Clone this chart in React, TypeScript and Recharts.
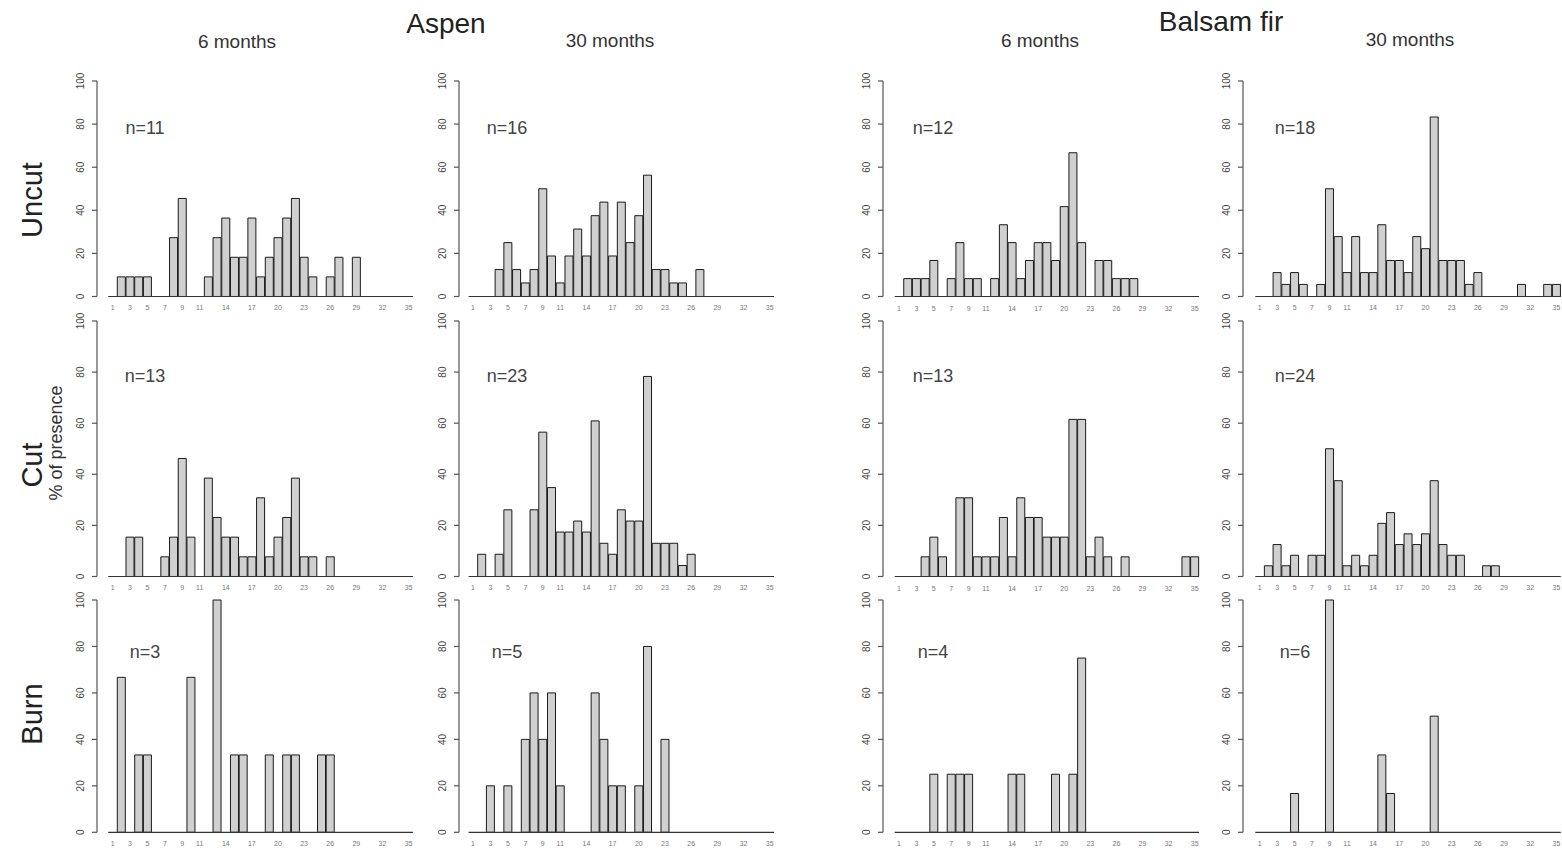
import React from "react";
import { BarChart, Bar, XAxis, YAxis } from "recharts";

// size classes 1..35
const days = [
  "1", "2", "3", "4", "5", "6", "7", "8", "9", "10",
  "11", "12", "13", "14", "15", "16", "17", "18", "19", "20",
  "21", "22", "23", "24", "25", "26", "27", "28", "29", "30",
  "31", "32", "33", "34", "35",
];
const shownDays = ["1", "3", "5", "7", "9", "11", "14", "17", "20", "23", "26", "29", "32", "35"];
const yTicks = [0, 20, 40, 60, 80, 100];

// % of presence, Aspen
const aspen6Uncut = [
  0, 9.1, 9.1, 9.1, 9.1, 0, 0, 27.3, 45.5, 0,
  0, 9.1, 27.3, 36.4, 18.2, 18.2, 36.4, 9.1, 18.2, 27.3,
  36.4, 45.5, 18.2, 9.1, 0, 9.1, 18.2, 0, 18.2, 0,
  0, 0, 0, 0, 0,
];
const aspen30Uncut = [
  0, 0, 0, 12.5, 25, 12.5, 6.3, 12.5, 50, 18.8,
  6.3, 18.8, 31.3, 18.8, 37.5, 43.8, 18.8, 43.8, 25, 37.5,
  56.3, 12.5, 12.5, 6.3, 6.3, 0, 12.5, 0, 0, 0,
  0, 0, 0, 0, 0,
];
const aspen6Cut = [
  0, 0, 15.4, 15.4, 0, 0, 7.7, 15.4, 46.2, 15.4,
  0, 38.5, 23.1, 15.4, 15.4, 7.7, 7.7, 30.8, 7.7, 15.4,
  23.1, 38.5, 7.7, 7.7, 0, 7.7, 0, 0, 0, 0,
  0, 0, 0, 0, 0,
];
const aspen30Cut = [
  0, 8.7, 0, 8.7, 26.1, 0, 0, 26.1, 56.5, 34.8,
  17.4, 17.4, 21.7, 17.4, 60.9, 13, 8.7, 26.1, 21.7, 21.7,
  78.3, 13, 13, 13, 4.3, 8.7, 0, 0, 0, 0,
  0, 0, 0, 0, 0,
];
const aspen6Burn = [
  0, 66.7, 0, 33.3, 33.3, 0, 0, 0, 0, 66.7,
  0, 0, 100, 0, 33.3, 33.3, 0, 0, 33.3, 0,
  33.3, 33.3, 0, 0, 33.3, 33.3, 0, 0, 0, 0,
  0, 0, 0, 0, 0,
];
const aspen30Burn = [
  0, 0, 20, 0, 20, 0, 40, 60, 40, 60,
  20, 0, 0, 0, 60, 40, 20, 20, 0, 20,
  80, 0, 40, 0, 0, 0, 0, 0, 0, 0,
  0, 0, 0, 0, 0,
];

// % of presence, Balsam fir
const balsam6Uncut = [
  0, 8.3, 8.3, 8.3, 16.7, 0, 8.3, 25, 8.3, 8.3,
  0, 8.3, 33.3, 25, 8.3, 16.7, 25, 25, 16.7, 41.7,
  66.7, 25, 0, 16.7, 16.7, 8.3, 8.3, 8.3, 0, 0,
  0, 0, 0, 0, 0,
];
const balsam30Uncut = [
  0, 0, 11.1, 5.6, 11.1, 5.6, 0, 5.6, 50, 27.8,
  11.1, 27.8, 11.1, 11.1, 33.3, 16.7, 16.7, 11.1, 27.8, 22.2,
  83.3, 16.7, 16.7, 16.7, 5.6, 11.1, 0, 0, 0, 0,
  5.6, 0, 0, 5.6, 5.6,
];
const balsam6Cut = [
  0, 0, 0, 7.7, 15.4, 7.7, 0, 30.8, 30.8, 7.7,
  7.7, 7.7, 23.1, 7.7, 30.8, 23.1, 23.1, 15.4, 15.4, 15.4,
  61.5, 61.5, 7.7, 15.4, 7.7, 0, 7.7, 0, 0, 0,
  0, 0, 0, 7.7, 7.7,
];
const balsam30Cut = [
  0, 4.2, 12.5, 4.2, 8.3, 0, 8.3, 8.3, 50, 37.5,
  4.2, 8.3, 4.2, 8.3, 20.8, 25, 12.5, 16.7, 12.5, 16.7,
  37.5, 12.5, 8.3, 8.3, 0, 0, 4.2, 4.2, 0, 0,
  0, 0, 0, 0, 0,
];
const balsam6Burn = [
  0, 0, 0, 0, 25, 0, 25, 25, 25, 0,
  0, 0, 0, 25, 25, 0, 0, 0, 25, 0,
  25, 75, 0, 0, 0, 0, 0, 0, 0, 0,
  0, 0, 0, 0, 0,
];
const balsam30Burn = [
  0, 0, 0, 0, 16.7, 0, 0, 0, 100, 0,
  0, 0, 0, 0, 33.3, 16.7, 0, 0, 0, 0,
  50, 0, 0, 0, 0, 0, 0, 0, 0, 0,
  0, 0, 0, 0, 0,
];

const sampleSizes = [
  ["n=11", "n=16", "n=12", "n=18"],
  ["n=13", "n=23", "n=13", "n=24"],
  ["n=3", "n=5", "n=4", "n=6"],
];

const panels = [
  [aspen6Uncut, aspen30Uncut, balsam6Uncut, balsam30Uncut],
  [aspen6Cut, aspen30Cut, balsam6Cut, balsam30Cut],
  [aspen6Burn, aspen30Burn, balsam6Burn, balsam30Burn],
];

// layout (page pixels)
const columns = [
  { axisX: 96.7, left: 107.95, right: 412.65, nx: 145 },
  { axisX: 459.3, left: 468.9, right: 774.4, nx: 507 },
  { axisX: 883.3, left: 895.0, right: 1199.3, nx: 933 },
  { axisX: 1243.3, left: 1255.6, right: 1561.1, nx: 1295 },
];
const rows = [
  { top: 81, bottom: 296.5, ny: 127 },
  { top: 320.5, bottom: 576, ny: 375 },
  { top: 599.5, bottom: 831.8, ny: 651 },
];

const FONT = '"Liberation Sans", Arial, sans-serif';

const DayTick = (props: any) => {
  const { x, y, payload } = props;
  if (!shownDays.includes(payload.value)) return <g />;
  return (
    <text x={x} y={y + 6} textAnchor="middle" fontSize={7} fill="#777" fontFamily={FONT}>
      {payload.value}
    </text>
  );
};

const ValueTick = (props: any) => {
  const { x, y, payload } = props;
  const bx = x - 6;
  return (
    <text
      x={bx}
      y={y}
      transform={`rotate(-90 ${bx} ${y})`}
      textAnchor="middle"
      fontSize={10}
      fill="#444"
      fontFamily={FONT}
    >
      {payload.value}
    </text>
  );
};

function Panel({ values, col, row }: { values: number[]; col: number; row: number }) {
  const data = days.map((d, i) => ({ day: d, value: values[i] }));
  const c = columns[col];
  const r = rows[row];
  const yw = 30;
  const pad = c.left - c.axisX;
  const width = yw + (c.right - c.axisX) + 2;
  const height = 10 + (r.bottom - r.top) + 20;
  return (
    <div style={{ position: "absolute", left: c.axisX - yw, top: r.top - 10 }}>
      <BarChart
        width={width}
        height={height}
        data={data}
        margin={{ top: 10, right: 2, bottom: 0, left: 0 }}
        barCategoryGap="4%"
      >
        <XAxis
          dataKey="day"
          height={20}
          interval={0}
          padding={{ left: pad, right: 0 }}
          tickLine={false}
          axisLine={{ stroke: "#333", strokeWidth: 1.2, strokeDasharray: `0 ${pad} 1000` }}
          tick={DayTick}
        />
        <YAxis
          width={yw}
          type="number"
          domain={[0, 100]}
          ticks={yTicks}
          tickSize={5}
          axisLine={{ stroke: "#555", strokeWidth: 1.2 }}
          tickLine={{ stroke: "#555", strokeWidth: 1.2 }}
          tick={ValueTick}
        />
        <Bar dataKey="value" fill="#d0d0d0" stroke="#1a1a1a" strokeWidth={1} isAnimationActive={false} />
      </BarChart>
    </div>
  );
}

export default function App() {
  return (
    <div
      style={{
        position: "absolute",
        left: 0,
        top: 0,
        width: 1562,
        height: 851,
        overflow: "hidden",
        background: "#fff",
      }}
    >
      {panels.map((rowPanels, ri) =>
        rowPanels.map((values, ci) => <Panel key={`${ri}-${ci}`} values={values} col={ci} row={ri} />)
      )}
      <svg
        width={1562}
        height={851}
        style={{ position: "absolute", left: 0, top: 0, pointerEvents: "none" }}
        fontFamily={FONT}
      >
        <text x={446} y={33} textAnchor="middle" fontSize={28} fill="#222">Aspen</text>
        <text x={1221} y={31} textAnchor="middle" fontSize={28} fill="#222">Balsam fir</text>
        <text x={237} y={48} textAnchor="middle" fontSize={19} fill="#333">6 months</text>
        <text x={610} y={47} textAnchor="middle" fontSize={19} fill="#333">30 months</text>
        <text x={1040} y={47} textAnchor="middle" fontSize={19} fill="#333">6 months</text>
        <text x={1410} y={46} textAnchor="middle" fontSize={19} fill="#333">30 months</text>

        <text x={42} y={200} transform="rotate(-90 42 200)" textAnchor="middle" fontSize={29} fill="#222">Uncut</text>
        <text x={42} y={465} transform="rotate(-90 42 465)" textAnchor="middle" fontSize={29} fill="#222">Cut</text>
        <text x={62} y={443} transform="rotate(-90 62 443)" textAnchor="middle" fontSize={18} fill="#333">% of presence</text>
        <text x={42} y={714} transform="rotate(-90 42 714)" textAnchor="middle" fontSize={29} fill="#222">Burn</text>

        {sampleSizes.map((rowLabels, ri) =>
          rowLabels.map((label, ci) => (
            <text
              key={`n-${ri}-${ci}`}
              x={columns[ci].nx}
              y={rows[ri].ny + 6.5}
              textAnchor="middle"
              fontSize={18}
              fill="#444"
            >
              {label}
            </text>
          ))
        )}
      </svg>
    </div>
  );
}
